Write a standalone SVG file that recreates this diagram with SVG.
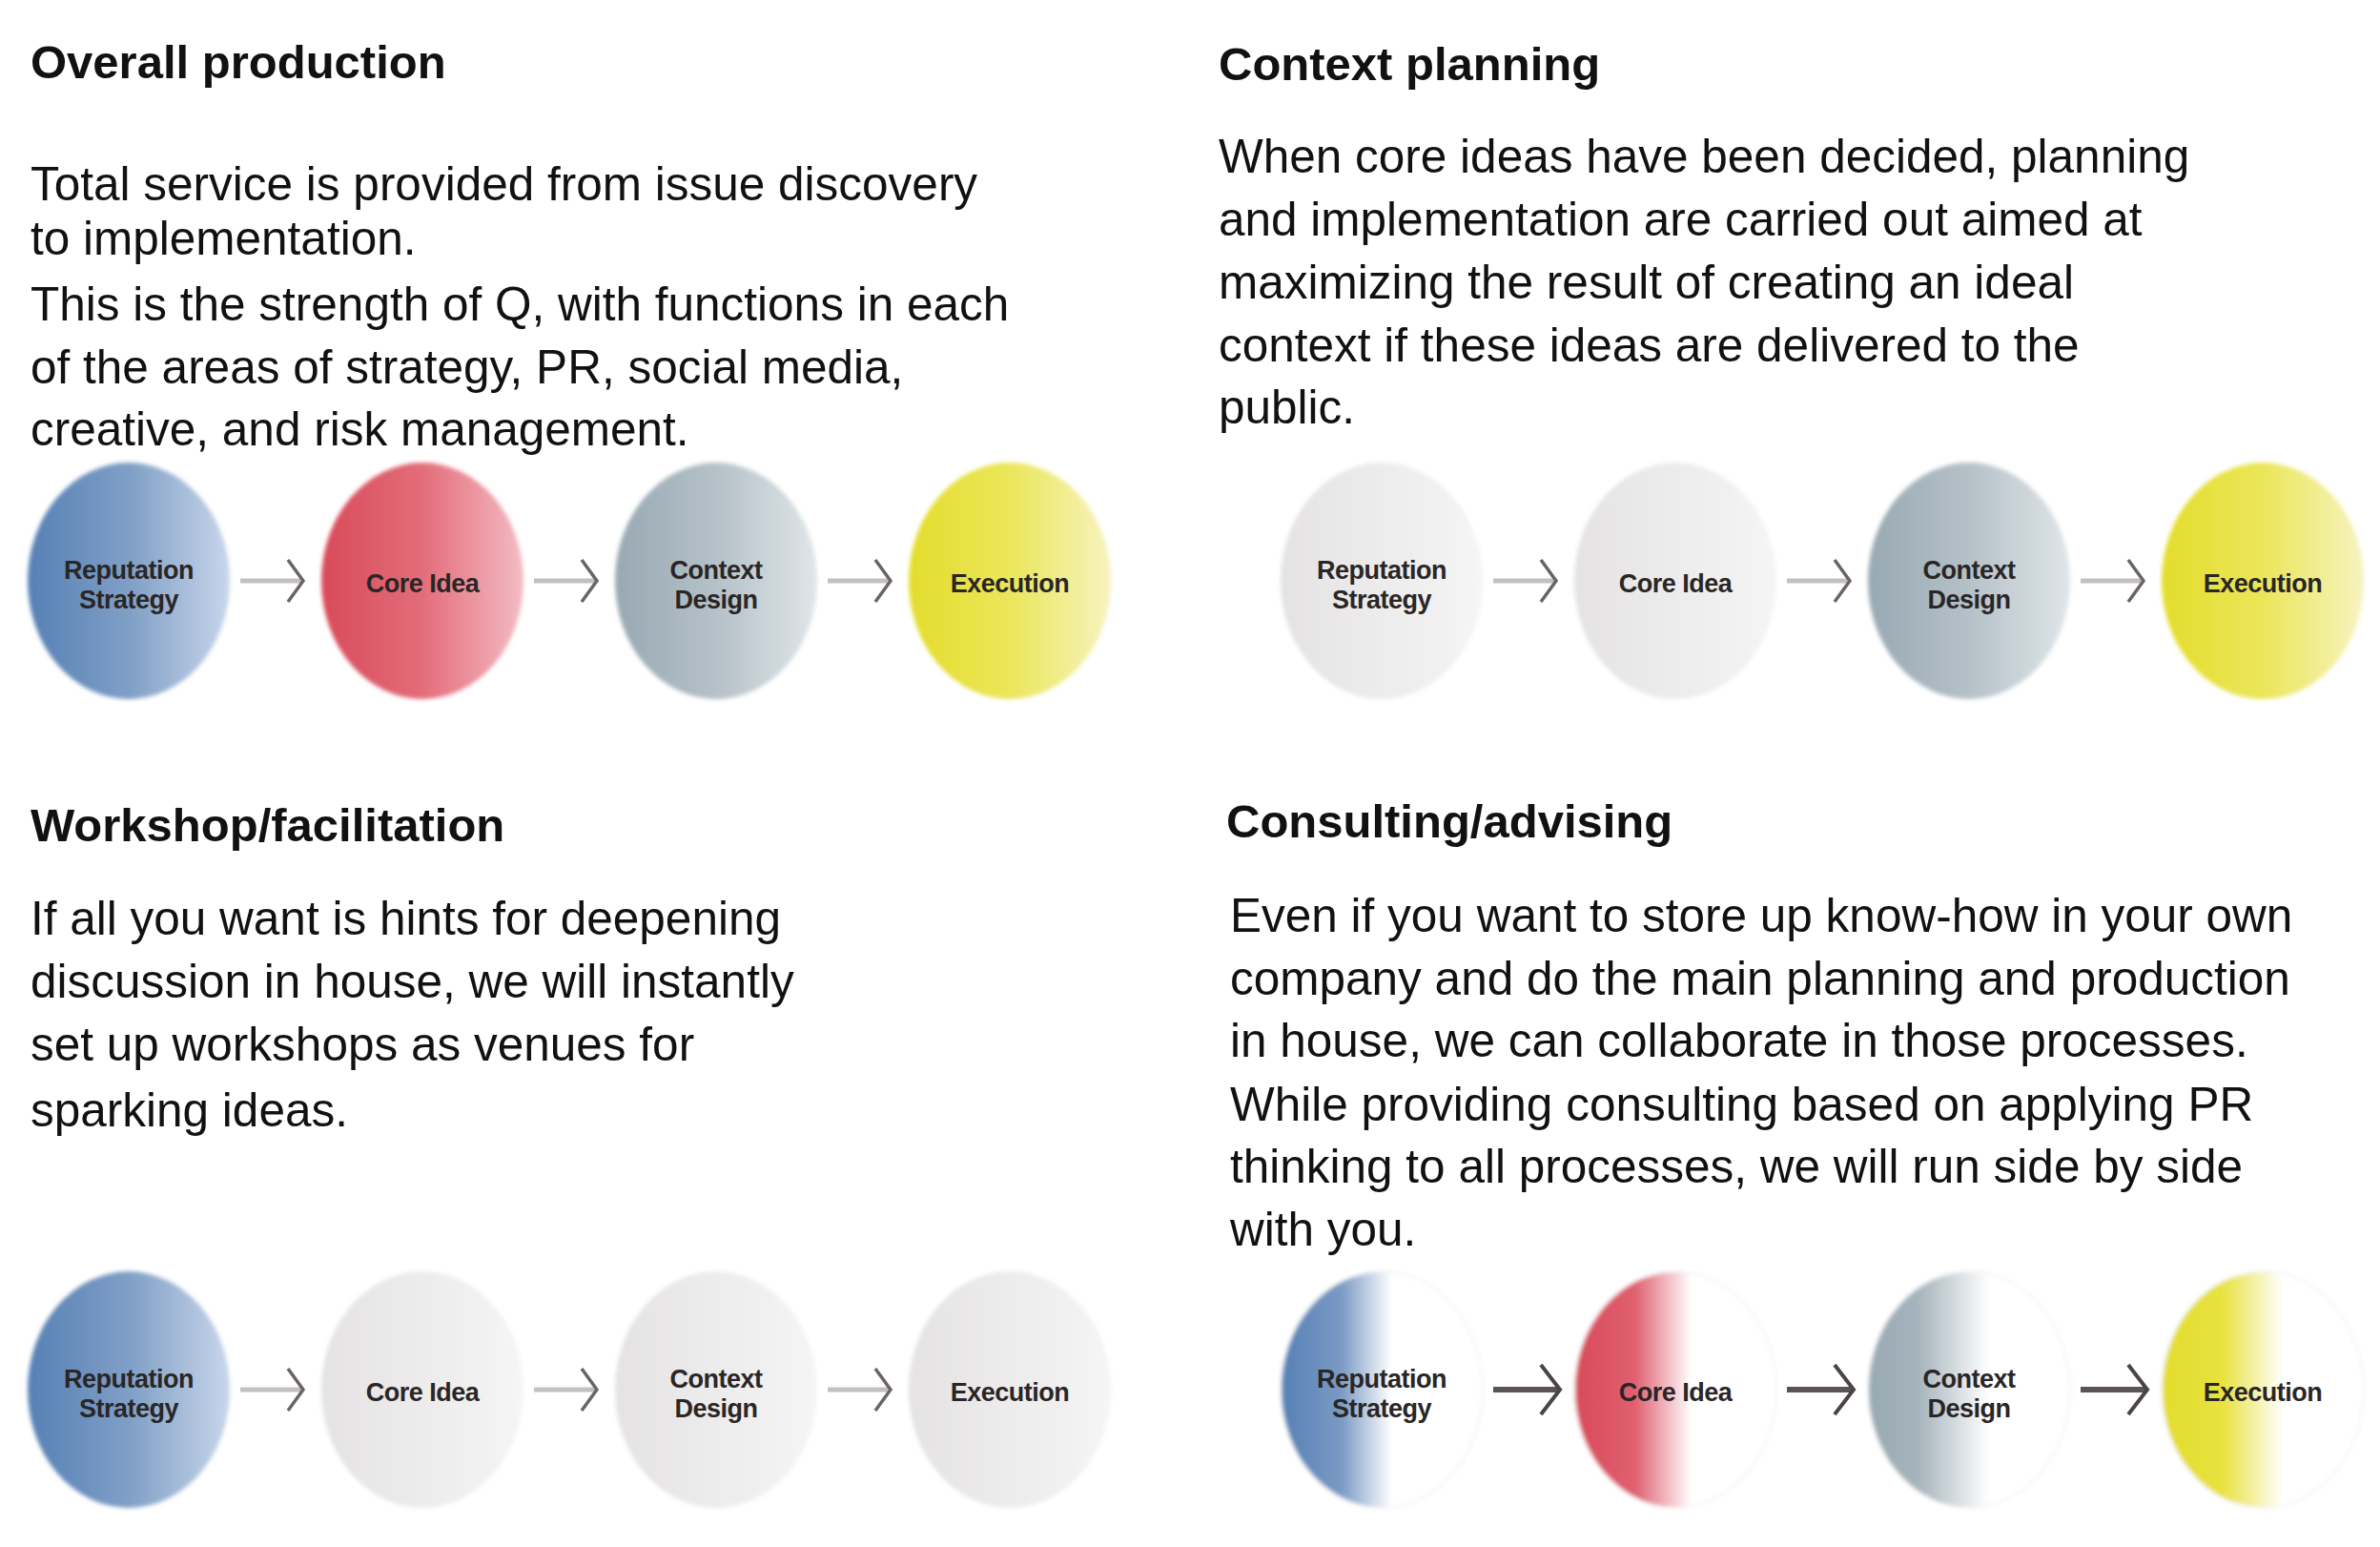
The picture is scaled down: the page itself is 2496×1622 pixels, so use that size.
<svg xmlns="http://www.w3.org/2000/svg" width="2496" height="1622" viewBox="0 0 2496 1622">
<style>
.t{font-family:"Liberation Sans",Arial,sans-serif;font-weight:bold;font-size:49px;fill:#111}
.b{font-family:"Liberation Sans",Arial,sans-serif;font-size:49.5px;fill:#111}
.n{font-family:"Liberation Sans",Arial,sans-serif;font-weight:bold;font-size:27px;fill:#2a2626;text-anchor:middle;letter-spacing:-0.5px}
.ln{stroke:#c4c0c0;stroke-width:5;fill:none}
.ch{stroke:#6a6464;stroke-width:3.5;fill:none}
.lnd{stroke:#5a5454;stroke-width:6;fill:none}
.chd{stroke:#4a4444;stroke-width:4;fill:none}
</style>
<defs>
<filter id="bl"><feGaussianBlur stdDeviation="2"/></filter>
<linearGradient id="gB"><stop offset="0" stop-color="#5680b5"/><stop offset="0.5" stop-color="#7f9fc6"/><stop offset="1" stop-color="#c8d6ea"/></linearGradient>
<linearGradient id="gR"><stop offset="0" stop-color="#d84a5a"/><stop offset="0.5" stop-color="#e36d7a"/><stop offset="1" stop-color="#f4bcc4"/></linearGradient>
<linearGradient id="gG"><stop offset="0" stop-color="#98a9b3"/><stop offset="0.5" stop-color="#b5c1c8"/><stop offset="1" stop-color="#e0e6e9"/></linearGradient>
<linearGradient id="gY"><stop offset="0" stop-color="#e3dd2c"/><stop offset="0.5" stop-color="#ebe65a"/><stop offset="1" stop-color="#f7f3c0"/></linearGradient>
<linearGradient id="gW"><stop offset="0" stop-color="#e4e2e2"/><stop offset="1" stop-color="#f6f5f5"/></linearGradient>
<linearGradient id="hB"><stop offset="0" stop-color="#5680b5"/><stop offset="0.3" stop-color="#7a9ac4"/><stop offset="0.55" stop-color="#ffffff"/><stop offset="1" stop-color="#ffffff"/></linearGradient>
<linearGradient id="hR"><stop offset="0" stop-color="#d84a5a"/><stop offset="0.3" stop-color="#e06070"/><stop offset="0.58" stop-color="#ffffff"/><stop offset="1" stop-color="#ffffff"/></linearGradient>
<linearGradient id="hG"><stop offset="0" stop-color="#98a9b3"/><stop offset="0.25" stop-color="#a6b4bc"/><stop offset="0.6" stop-color="#ffffff"/><stop offset="1" stop-color="#ffffff"/></linearGradient>
<linearGradient id="hY"><stop offset="0" stop-color="#e3dd2c"/><stop offset="0.3" stop-color="#e8e240"/><stop offset="0.6" stop-color="#ffffff"/><stop offset="1" stop-color="#ffffff"/></linearGradient>
</defs>

<g id="texts">
<text class="t" x="32" y="82">Overall production</text>
<text class="b" x="32" y="210">Total service is provided from issue discovery</text>
<text class="b" x="32" y="267">to implementation.</text>
<text class="b" x="32" y="336">This is the strength of Q, with functions in each</text>
<text class="b" x="32" y="402">of the areas of strategy, PR, social media,</text>
<text class="b" x="32" y="467">creative, and risk management.</text>

<text class="t" x="1278" y="84">Context planning</text>
<text class="b" x="1278" y="181">When core ideas have been decided, planning</text>
<text class="b" x="1278" y="247">and implementation are carried out aimed at</text>
<text class="b" x="1278" y="313">maximizing the result of creating an ideal</text>
<text class="b" x="1278" y="379">context if these ideas are delivered to the</text>
<text class="b" x="1278" y="444">public.</text>

<text class="t" x="32" y="882">Workshop/facilitation</text>
<text class="b" x="32" y="980">If all you want is hints for deepening</text>
<text class="b" x="32" y="1046">discussion in house, we will instantly</text>
<text class="b" x="32" y="1112">set up workshops as venues for</text>
<text class="b" x="32" y="1181">sparking ideas.</text>

<text class="t" x="1286" y="878">Consulting/advising</text>
<text class="b" x="1290" y="977">Even if you want to store up know-how in your own</text>
<text class="b" x="1290" y="1043">company and do the main planning and production</text>
<text class="b" x="1290" y="1108">in house, we can collaborate in those processes.</text>
<text class="b" x="1290" y="1175">While providing consulting based on applying PR</text>
<text class="b" x="1290" y="1240">thinking to all processes, we will run side by side</text>
<text class="b" x="1290" y="1306">with you.</text>
</g>

<g id="tl1"><ellipse cx="135" cy="609" rx="106" ry="124" fill="url(#gB)" filter="url(#bl)"/><text class="n" x="135" y="607">Reputation</text><text class="n" x="135" y="638">Strategy</text></g>
<g id="tl2"><ellipse cx="443" cy="609" rx="106" ry="124" fill="url(#gR)" filter="url(#bl)"/><text class="n" x="443" y="621">Core Idea</text></g>
<g id="tl3"><ellipse cx="751" cy="609" rx="106" ry="124" fill="url(#gG)" filter="url(#bl)"/><text class="n" x="751" y="607">Context</text><text class="n" x="751" y="638">Design</text></g>
<g id="tl4"><ellipse cx="1059" cy="609" rx="106" ry="124" fill="url(#gY)" filter="url(#bl)"/><text class="n" x="1059" y="621">Execution</text></g>

<g id="tr1"><ellipse cx="1449" cy="609" rx="106" ry="124" fill="url(#gW)" filter="url(#bl)"/><text class="n" x="1449" y="607">Reputation</text><text class="n" x="1449" y="638">Strategy</text></g>
<g id="tr2"><ellipse cx="1757" cy="609" rx="106" ry="124" fill="url(#gW)" filter="url(#bl)"/><text class="n" x="1757" y="621">Core Idea</text></g>
<g id="tr3"><ellipse cx="2065" cy="609" rx="106" ry="124" fill="url(#gG)" filter="url(#bl)"/><text class="n" x="2065" y="607">Context</text><text class="n" x="2065" y="638">Design</text></g>
<g id="tr4"><ellipse cx="2373" cy="609" rx="106" ry="124" fill="url(#gY)" filter="url(#bl)"/><text class="n" x="2373" y="621">Execution</text></g>

<g id="bl1"><ellipse cx="135" cy="1457" rx="106" ry="124" fill="url(#gB)" filter="url(#bl)"/><text class="n" x="135" y="1455">Reputation</text><text class="n" x="135" y="1486">Strategy</text></g>
<g id="bl2"><ellipse cx="443" cy="1457" rx="106" ry="124" fill="url(#gW)" filter="url(#bl)"/><text class="n" x="443" y="1469">Core Idea</text></g>
<g id="bl3"><ellipse cx="751" cy="1457" rx="106" ry="124" fill="url(#gW)" filter="url(#bl)"/><text class="n" x="751" y="1455">Context</text><text class="n" x="751" y="1486">Design</text></g>
<g id="bl4"><ellipse cx="1059" cy="1457" rx="106" ry="124" fill="url(#gW)" filter="url(#bl)"/><text class="n" x="1059" y="1469">Execution</text></g>

<g id="br1"><ellipse cx="1449" cy="1457" rx="106" ry="124" fill="url(#hB)" stroke="#f4f4f4" stroke-width="2" filter="url(#bl)"/><text class="n" x="1449" y="1455">Reputation</text><text class="n" x="1449" y="1486">Strategy</text></g>
<g id="br2"><ellipse cx="1757" cy="1457" rx="106" ry="124" fill="url(#hR)" stroke="#f4f4f4" stroke-width="2" filter="url(#bl)"/><text class="n" x="1757" y="1469">Core Idea</text></g>
<g id="br3"><ellipse cx="2065" cy="1457" rx="106" ry="124" fill="url(#hG)" stroke="#f4f4f4" stroke-width="2" filter="url(#bl)"/><text class="n" x="2065" y="1455">Context</text><text class="n" x="2065" y="1486">Design</text></g>
<g id="br4"><ellipse cx="2373" cy="1457" rx="106" ry="124" fill="url(#hY)" stroke="#f4f4f4" stroke-width="2" filter="url(#bl)"/><text class="n" x="2373" y="1469">Execution</text></g>

<g id="connectors">
<g transform="translate(252,609)"><path class="ln" d="M0 0H64"/><path class="ch" d="M50 -22L66 0L50 22"/></g>
<g transform="translate(560,609)"><path class="ln" d="M0 0H64"/><path class="ch" d="M50 -22L66 0L50 22"/></g>
<g transform="translate(868,609)"><path class="ln" d="M0 0H64"/><path class="ch" d="M50 -22L66 0L50 22"/></g>
<g transform="translate(1566,609)"><path class="ln" d="M0 0H64"/><path class="ch" d="M50 -22L66 0L50 22"/></g>
<g transform="translate(1874,609)"><path class="ln" d="M0 0H64"/><path class="ch" d="M50 -22L66 0L50 22"/></g>
<g transform="translate(2182,609)"><path class="ln" d="M0 0H64"/><path class="ch" d="M50 -22L66 0L50 22"/></g>
<g transform="translate(252,1457)"><path class="ln" d="M0 0H64"/><path class="ch" d="M50 -22L66 0L50 22"/></g>
<g transform="translate(560,1457)"><path class="ln" d="M0 0H64"/><path class="ch" d="M50 -22L66 0L50 22"/></g>
<g transform="translate(868,1457)"><path class="ln" d="M0 0H64"/><path class="ch" d="M50 -22L66 0L50 22"/></g>
<g transform="translate(1566,1457)"><path class="lnd" d="M0 0H68"/><path class="chd" d="M50 -26L70 0L50 26"/></g>
<g transform="translate(1874,1457)"><path class="lnd" d="M0 0H68"/><path class="chd" d="M50 -26L70 0L50 26"/></g>
<g transform="translate(2182,1457)"><path class="lnd" d="M0 0H68"/><path class="chd" d="M50 -26L70 0L50 26"/></g>
</g>
</svg>
